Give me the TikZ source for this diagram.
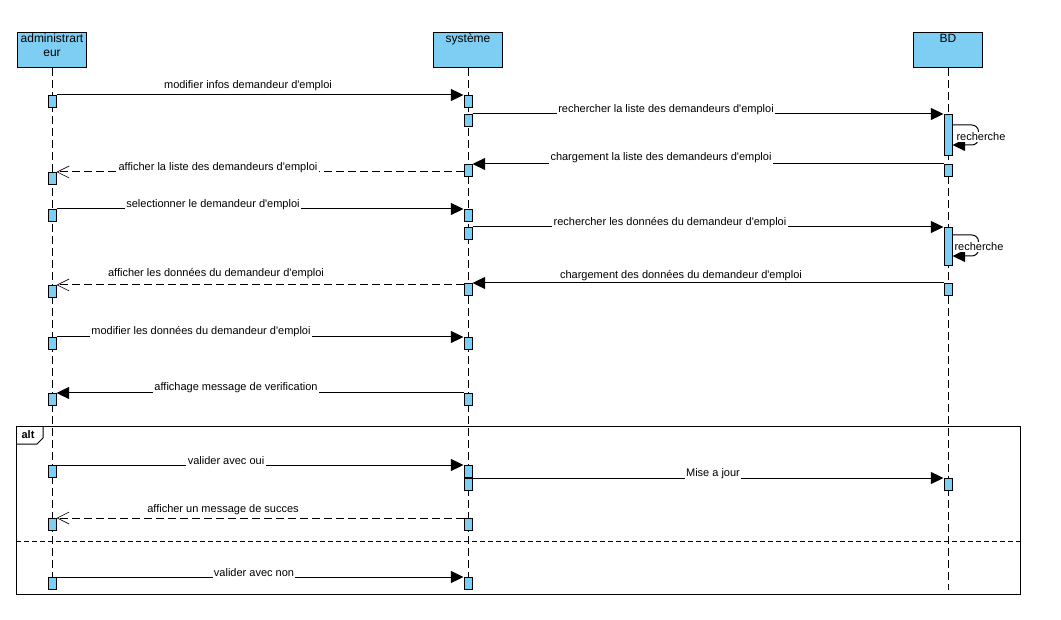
\documentclass[tikz,border=0pt]{standalone}
\usepackage{fontspec}
\setmainfont{Liberation Sans}[Ligatures=TeXOff]
\usetikzlibrary{arrows.meta}
\definecolor{actblue}{RGB}{126,206,244}
\begin{document}
\begin{tikzpicture}[x=0.75pt,y=-0.75pt,line width=0.75pt]
        \tikzstyle{every node}=[font=\fontsize{8.25}{10}\selectfont];
        \tikzstyle{head}=[draw,fill=actblue,minimum width=51.75pt,minimum height=26.25pt,anchor=north,inner sep=0pt];
        \tikzstyle{headtext}=[font=\fontsize{9}{10.5}\selectfont,align=center,anchor=north,inner sep=1pt];
        \tikzstyle{act}=[draw,fill=actblue,minimum width=6pt,minimum height=9pt,anchor=north,inner sep=0pt];
        \tikzstyle{life}=[dash pattern=on 6pt off 3pt];
        \tikzstyle{msg}=[-{Triangle[length=9.5pt,width=9pt]}];
        \tikzstyle{ret}=[dash pattern=on 6pt off 3pt,-{Straight Barb[length=9pt,width=9pt,line width=0.5pt]}];
        \tikzstyle{lbl}=[fill=white,inner sep=1pt];
        \tikzstyle{lblfree}=[inner sep=1pt];
        \useasboundingbox (0,0) rectangle (1061,620);
        % lifelines
        \node[head,label={[headtext]north:administrart\\eur}] (adm) at (52,32) {};
        \node[head,label={[headtext]north:système}] (sys) at (468,32) {};
        \node[head,label={[headtext]north:BD}] (bd) at (948,32) {};
        \coordinate (admend) at (52,590);
        \coordinate (sysend) at (468,590);
        \coordinate (bdend) at (948,590);
        \draw[life] (adm.south)--(admend);
        \draw[life] (sys.south)--(sysend);
        \draw[life] (bd.south)--(bdend);
        % alt frame
        \draw (16,427) rectangle (1020,594);
        \draw (16,444) -- (37,444) -- (43,438) -- (43,427);
        \node[font=\bfseries\fontsize{8.25}{10}\selectfont] (alt) at (28,435) {alt};
        \draw[dash pattern=on 4pt off 2pt] (16,541) -- (1020,541);
        % activations
        \node[act] (a1) at (52,95) {};
        \node[act] (a2) at (52,172) {};
        \node[act] (a3) at (52,209) {};
        \node[act] (a4) at (52,285) {};
        \node[act] (a5) at (52,337) {};
        \node[act] (a6) at (52,393) {};
        \node[act] (a7) at (52,465) {};
        \node[act] (a8) at (52,518) {};
        \node[act] (a9) at (52,577) {};
        \node[act] (s1) at (468,95) {};
        \node[act] (s2) at (468,114) {};
        \node[act] (s3) at (468,164) {};
        \node[act] (s4) at (468,209) {};
        \node[act] (s5) at (468,227) {};
        \node[act] (s6) at (468,283) {};
        \node[act] (s7) at (468,337) {};
        \node[act] (s8) at (468,393) {};
        \node[act] (s9) at (468,465) {};
        \node[act] (s10) at (468,478) {};
        \node[act] (s11) at (468,518) {};
        \node[act] (s12) at (468,577) {};
        \node[act,minimum height=30.75pt] (b1) at (948,114) {};
        \node[act] (b2) at (948,164) {};
        \node[act,minimum height=28.5pt] (b3) at (948,227) {};
        \node[act] (b4) at (948,283) {};
        \node[act] (b5) at (948,478) {};
        % messages
        \draw[msg] (a1.north east)--(s1.north west);
        \node[lblfree] (l1) at (248,86) {modifier infos demandeur d'emploi};
        \draw[msg] (s2.north east)--(b1.north west);
        \node[lbl] (l2) at (666,110) {rechercher la liste des demandeurs d'emploi};
        \draw[msg,rounded corners=5] (b1.north east) ++(0,11) -- ++(26,0) -- ++(0,20) -- ++(-26,0);
        \node[lbl] (r1) at (981,137) {recherche};
        \draw[msg] (b2.north west)--(s3.north east);
        \node[lbl] (l3) at (661,158) {chargement la liste des demandeurs d'emploi};
        \draw[ret] (s3.west |- a2.north)--(a2.north east);
        \node[lbl] (l4) at (218,168) {afficher la liste des demandeurs d'emploi};
        \draw[msg] (a3.north east)--(s4.north west);
        \node[lbl] (l5) at (213,205) {selectionner le demandeur d'emploi};
        \draw[msg] (s5.north east)--(b3.north west);
        \node[lbl] (l6) at (670,223) {rechercher les données du demandeur d'emploi};
        \draw[msg,rounded corners=5] (b3.north east) ++(0,8) -- ++(26,0) -- ++(0,21) -- ++(-26,0);
        \node[lbl] (r2) at (979,247) {recherche};
        \draw[msg] (b4.north west)--(s6.north east);
        \node[lblfree] (l8) at (681,276) {chargement des données du demandeur d'emploi};
        \draw[ret] (s6.west |- a4.north)--(a4.north east);
        \node[lblfree] (l7) at (216,274) {afficher les données du demandeur d'emploi};
        \draw[msg] (a5.north east)--(s7.north west);
        \node[lbl] (l9) at (201,332) {modifier les données du demandeur d'emploi};
        \draw[msg] (s8.north west)--(a6.north east);
        \node[lbl] (l10) at (236,388) {affichage message de verification};
        \draw[msg] (a7.north east)--(s9.north west);
        \node[lbl] (l11) at (226,461) {valider avec oui};
        \draw[msg] (s10.north east)--(b5.north west);
        \node[lbl] (l12) at (713,474) {Mise a jour};
        \draw[ret] (s11.north west)--(a8.north east);
        \node[lblfree] (l13) at (223,510) {afficher un message de succes};
        \draw[msg] (a9.north east)--(s12.north west);
        \node[lbl] (l14) at (254,573) {valider avec non};
\end{tikzpicture}
\end{document}
